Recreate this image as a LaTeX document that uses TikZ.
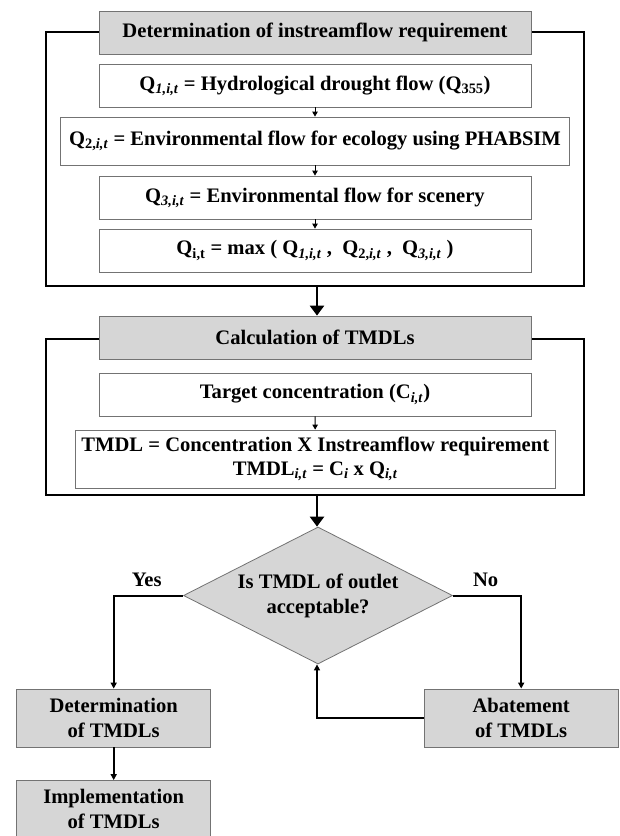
\documentclass[tikz,border=0pt]{standalone}
\usepackage{fontspec}
\setmainfont{Liberation Serif}
\usetikzlibrary{shapes.geometric,arrows.meta,backgrounds}
\newcommand\sbs[1]{\textsubscript{#1}}
\begin{document}
\begin{tikzpicture}[x=1pt,y=-1pt,
  font=\fontsize{20.6}{25}\selectfont\bfseries,
  box/.style={draw=black!55, line width=0.8pt, fill=white, inner sep=0pt, align=center},
  gbox/.style={box, fill=black!16},
  frame/.style={draw=black, line width=1.8pt},
  thin/.style={draw=black, line width=0.9pt, -{Triangle[length=5pt,width=5.5pt]}},
  thick/.style={draw=black, line width=2.8pt, -{Triangle[length=10pt,width=14pt]}},
  mid/.style={draw=black, line width=2pt, -{Triangle[length=6pt,width=6pt]}},
  lbl/.style={inner sep=0pt}]
\useasboundingbox[fill=white] (0,0) rectangle (620,836);

% frames
\coordinate (f1a) at (45.7,31.7);
\coordinate (f1b) at (584,286);
\coordinate (f2a) at (45.7,339);
\coordinate (f2b) at (584,495);
\draw[frame] (f1a) rectangle (f1b);
\draw[frame] (f2a) rectangle (f2b);

% section 1
\node[gbox, minimum width=432pt, minimum height=43pt] (t1) at (315,32.5) {Determination of instreamflow requirement};
\node[box, minimum width=432pt, minimum height=43pt] (b1) at (315,85.5) {Q\sbs{\textit{1,i,t}} = Hydrological drought flow (Q\sbs{355})};
\node[box, minimum width=509pt, minimum height=48pt] (b2) at (315,141) {Q\sbs{2,\textit{i,t}} = Environmental flow for ecology using PHABSIM};
\node[box, minimum width=432pt, minimum height=43pt] (b3) at (315,197.5) {Q\sbs{\textit{3,i,t}} = Environmental flow for scenery};
\node[box, minimum width=432pt, minimum height=43pt] (b4) at (315,250.5) {Q\sbs{i,t} = max ( Q\sbs{\textit{1,i,t}} ,\ \ Q\sbs{2,\textit{i,t}} ,\ \ Q\sbs{\textit{3,i,t}} )};

\draw[thin] (b1) -- (b2);
\draw[thin] (b2) -- (b3);
\draw[thin] (b3) -- (b4);

% section 2
\node[gbox, minimum width=432pt, minimum height=43pt] (t2) at (315,337.5) {Calculation of TMDLs};
\node[box, minimum width=432pt, minimum height=43pt] (b5) at (315,394.5) {Target concentration (C\sbs{\textit{i,t}})};
\node[box, minimum width=480pt, minimum height=58pt] (b6) at (315.3,459) {TMDL = Concentration X Instreamflow requirement\\[-1pt] TMDL\sbs{\textit{i,t}} = C\sbs{\textit{i}} x Q\sbs{\textit{i,t}}};

\draw[thin] (b5) -- (b6);

\coordinate (f1bot) at (317,286);
\coordinate (f2bot) at (317,495);
\draw[thick] (f1bot) -- (t2.north -| f1bot);

% decision
\node[gbox, shape=diamond, aspect=1.966, minimum width=269pt, minimum height=137pt, inner sep=0pt] (d) at (318,595.5) {Is TMDL of outlet\\acceptable?};
\draw[thick] (f2bot) -- (d.north -| f2bot);

\node[gbox, minimum width=194pt, minimum height=58pt] (det) at (113.7,718) {Determination\\of TMDLs};
\node[gbox, minimum width=194pt, minimum height=58pt] (abat) at (521.2,718) {Abatement\\of TMDLs};
\node[gbox, minimum width=194pt, minimum height=56pt] (impl) at (113.7,808.5) {Implementation\\of TMDLs};

\draw[mid] (d.west) -| (det.north);
\draw[mid] (d.east) -| (abat.north);
\draw[mid] (abat.west) -| (d.south -| f2bot);
\draw[mid] (det) -- (impl);

\node[lbl] (yes) at (146.7,580) {Yes};
\node[lbl] (no) at (485.7,580) {No};
\end{tikzpicture}
\end{document}
